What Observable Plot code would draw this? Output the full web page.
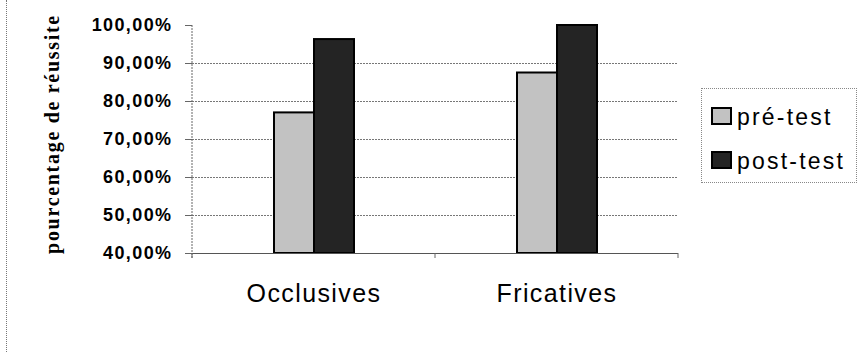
<!DOCTYPE html>
<html>
<head>
<meta charset="utf-8">
<script src="https://cdn.jsdelivr.net/npm/d3@7"></script>
<script src="https://cdn.jsdelivr.net/npm/@observablehq/plot@0.6"></script>
<style>
  html, body { margin: 0; padding: 0; background: #fff; }
  #wrap { position: relative; width: 858px; height: 352px; overflow: hidden; }
  #chart { position: absolute; left: 0; top: 0; }
  #edge { position: absolute; left: 6px; top: 0; width: 0; height: 352px; border-left: 1px dotted #777; }
  #ytitle { position: absolute; left: -98px; top: 122px; width: 300px; height: 24px; line-height: 24px;
    text-align: center; transform: rotate(-90deg); transform-origin: 150px 12px;
    font-family: "Liberation Serif", "Times New Roman", serif; font-weight: bold; font-size: 20px;
    letter-spacing: 1.7px; color: #000; white-space: nowrap; }
  #legend { position: absolute; left: 701px; top: 88px; width: 154px; height: 93px;
    border: 1px dotted #888; font-family: "Liberation Sans", Arial, sans-serif; font-size: 23px;
    letter-spacing: 2.2px; color: #000; }
  .sw { position: absolute; left: 9px; width: 21px; height: 18px; border: 2px solid #000; box-sizing: border-box; }
  .lt { position: absolute; left: 35px; line-height: 23px; white-space: nowrap; }
  .axt text { letter-spacing: 1.4px; }
  .axc text { letter-spacing: 1.4px; }
</style>
</head>
<body>
<div id="wrap">
  <div id="edge"></div>
  <div id="chart"></div>
  <div id="ytitle"></div>
  <div id="legend"></div>
</div>
<script>
const categories = ["Occlusives", "Fricatives"];
const series = ["pré-test", "post-test"];
const preValues = [0.77, 0.875];
const postValues = [0.963, 1.0];
const yTicks = [0.4, 0.5, 0.6, 0.7, 0.8, 0.9, 1.0];
const gridTicks = [0.5, 0.6, 0.7, 0.8, 0.9];
const colors = ["#c2c2c2", "#242424"];
const yLabel = "pourcentage de réussite";

const data = [];
categories.forEach((c, i) => {
  data.push({category: c, series: series[0], value: preValues[i]});
  data.push({category: c, series: series[1], value: postValues[i]});
});

const fmt = v => (v * 100).toFixed(2).replace(".", ",") + "%";

const chart = Plot.plot({
  width: 858,
  height: 352,
  marginLeft: 192,
  marginRight: 180,
  marginTop: 25,
  marginBottom: 99,
  style: {background: "transparent"},
  fx: {domain: categories, padding: 0},
  x: {domain: series, paddingInner: 0, paddingOuter: 2, axis: null},
  y: {domain: [0.4, 1.0]},
  color: {domain: series, range: colors},
  marks: [
    Plot.ruleY(gridTicks, {stroke: "#777", strokeDasharray: "2,1", strokeWidth: 1}),
    Plot.barY(data, {fx: "category", x: "series", y1: 0.4, y2: "value", fill: "series", stroke: "#000", strokeWidth: 2}),
    Plot.ruleY([0.4], {stroke: "#555", strokeWidth: 1}),
    Plot.axisY(yTicks, {tickFormat: fmt, tickSize: 7, tickPadding: 13, stroke: "#666",
      fontSize: 18, fontWeight: "bold", fontFamily: "Liberation Sans, Arial, sans-serif", fill: "#000",
      label: null, className: "axt"}),
    Plot.axisFx({anchor: "bottom", tickSize: 0, tickPadding: 31, fontSize: 25, label: null,
      fontFamily: "Liberation Sans, Arial, sans-serif", fill: "#000", className: "axc"})
  ]
});
document.getElementById("chart").appendChild(chart);

// left axis line and category boundary ticks, from the chart's own scales
const fxDesc = chart.scale("fx");
const yDesc = chart.scale("y");
const fxBand = d3.scaleBand().domain(fxDesc.domain).range(fxDesc.range).padding(0);
const yLin = d3.scaleLinear().domain(yDesc.domain).range(yDesc.range);
const svg = d3.select(chart);
const g = svg.append("g").attr("stroke", "#666").attr("stroke-width", 1);
const x0 = fxBand.range()[0];
g.append("line").attr("x1", x0).attr("x2", x0)
  .attr("y1", yLin(yDesc.domain[1])).attr("y2", yLin(yDesc.domain[0]) + 5)
  .attr("stroke-dasharray", "2,1");
const bounds = fxBand.domain().map(c => fxBand(c)).concat([fxBand.range()[1]]);
bounds.forEach(b => {
  g.append("line").attr("x1", b).attr("x2", b)
    .attr("y1", yLin(yDesc.domain[0])).attr("y2", yLin(yDesc.domain[0]) + 5);
});

document.getElementById("ytitle").textContent = yLabel;

const legend = document.getElementById("legend");
series.forEach((s, i) => {
  const sw = document.createElement("div");
  sw.className = "sw";
  sw.style.top = (i === 0 ? 18 : 62) + "px";
  sw.style.background = colors[i];
  legend.appendChild(sw);
  const t = document.createElement("span");
  t.className = "lt";
  t.style.top = (i === 0 ? 17 : 61) + "px";
  t.textContent = s;
  legend.appendChild(t);
});
</script>
</body>
</html>
